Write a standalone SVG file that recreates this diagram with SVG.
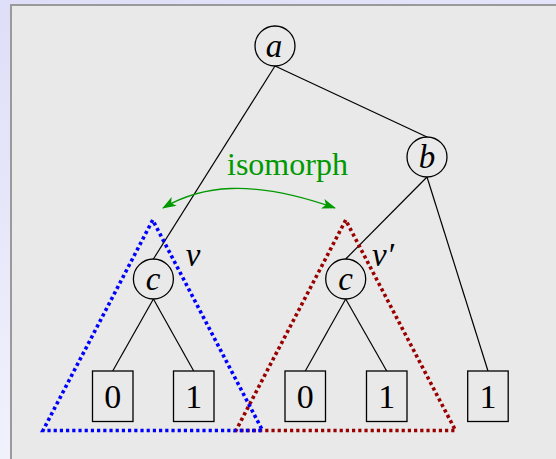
<svg xmlns="http://www.w3.org/2000/svg" width="556" height="459" viewBox="0 0 556 459">
<defs>
<linearGradient id="bg" x1="0" y1="0" x2="0.3" y2="1">
<stop offset="0" stop-color="#dedef8"/>
<stop offset="1" stop-color="#f3f3fd"/>
</linearGradient>
<marker id="ah" viewBox="0 0 14 10" refX="13" refY="5" markerWidth="14" markerHeight="10" markerUnits="userSpaceOnUse" orient="auto-start-reverse">
<path d="M0,0 L14,5 L0,10 L3.5,5 Z" fill="#009900"/>
</marker>
<style>
.edge{stroke:#000;stroke-width:1.2;fill:none}
.node circle{fill:#e9e9e9;stroke:#000;stroke-width:1.3}
.node rect{fill:#e9e9e9;stroke:#000;stroke-width:1.3}
.lbl{font-family:"Liberation Serif","Times New Roman",serif;font-size:34px;text-anchor:middle;fill:#000}
.it{font-style:italic;font-size:33px}
.tri{fill:none;stroke-width:3.6;stroke-dasharray:3.2,3}
</style>
</defs>
<rect x="0" y="0" width="556" height="459" fill="url(#bg)"/>
<rect x="11" y="5" width="560" height="470" fill="#e9e9e9" stroke="#9a9a9a" stroke-width="2"/>

<g id="connectors">
<line class="edge" x1="275" y1="66" x2="153.4" y2="259"/>
<line class="edge" x1="275" y1="66" x2="427" y2="137"/>
<line class="edge" x1="427" y1="177" x2="345.7" y2="259"/>
<line class="edge" x1="427" y1="177" x2="488" y2="371"/>
<line class="edge" x1="153.4" y1="299" x2="112.7" y2="371"/>
<line class="edge" x1="153.4" y1="299" x2="193.7" y2="371"/>
<line class="edge" x1="345.7" y1="299" x2="305.3" y2="371"/>
<line class="edge" x1="345.7" y1="299" x2="386.7" y2="371"/>
<path d="M163,208 C200,186 250,178 335,208" fill="none" stroke="#009900" stroke-width="1.3" marker-start="url(#ah)" marker-end="url(#ah)"/>
</g>

<g id="node-a" class="node"><circle cx="275" cy="46" r="20"/><text class="lbl it" x="274" y="57">a</text></g>
<g id="node-b" class="node"><circle cx="427" cy="157" r="20"/><text class="lbl it" x="427" y="168">b</text></g>
<g id="node-c1" class="node"><circle cx="153.4" cy="279" r="20"/><text class="lbl it" x="153" y="290">c</text></g>
<g id="node-c2" class="node"><circle cx="345.7" cy="279" r="20"/><text class="lbl it" x="345.5" y="290">c</text></g>
<g id="leaf-1" class="node"><rect x="92.5" y="371" width="40.5" height="50.5"/><text class="lbl" x="112.7" y="408">0</text></g>
<g id="leaf-2" class="node"><rect x="173.5" y="371" width="40.5" height="50.5"/><text class="lbl" x="193.7" y="408">1</text></g>
<g id="leaf-3" class="node"><rect x="285" y="371" width="40.5" height="50.5"/><text class="lbl" x="305.3" y="408">0</text></g>
<g id="leaf-4" class="node"><rect x="366.5" y="371" width="40.5" height="50.5"/><text class="lbl" x="386.7" y="408">1</text></g>
<g id="leaf-5" class="node"><rect x="467.7" y="371" width="40.5" height="50.5"/><text class="lbl" x="488" y="408">1</text></g>

<g id="subtree-red"><polygon class="tri" stroke="#990000" points="345.7,220 236,430.5 455.5,430.5"/></g>
<g id="subtree-blue"><polygon class="tri" stroke="#0000ff" points="152.7,220 43,430.5 262.5,430.5"/></g>

<g id="labels">
<text class="lbl it" x="193" y="266">v</text>
<text class="lbl it" x="383" y="266">v′</text>
<text x="227" y="175" style="font-family:'Liberation Serif','Times New Roman',serif;font-size:32px;fill:#009900">isomorph</text>
</g>
</svg>
